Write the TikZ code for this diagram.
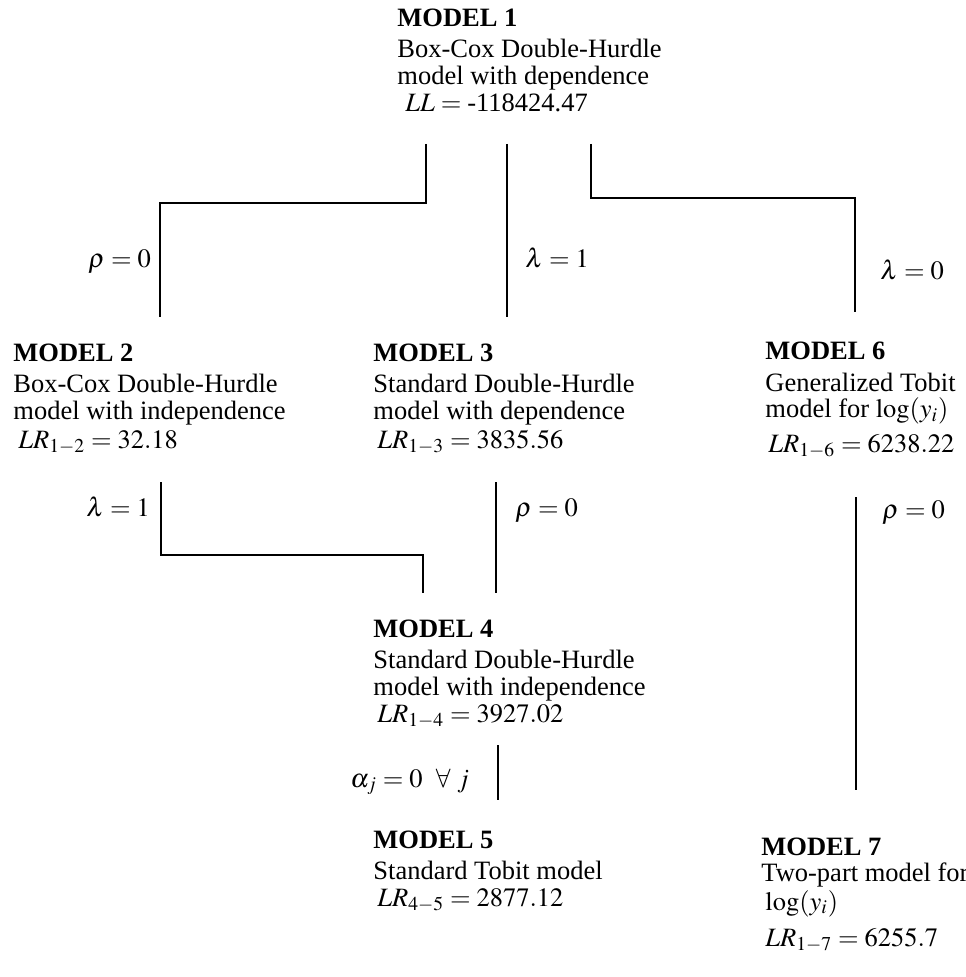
\documentclass[tikz,border=0pt]{standalone}
\usepackage{mathptmx}
\usepackage{fontspec}
\setmainfont{Liberation Serif}
\usepackage{tikz}
\usetikzlibrary{positioning}
\tikzstyle{header}=[anchor=base west,inner sep=0pt,font=\fontsize{13.25}{16}\selectfont\bfseries]
\tikzstyle{bodyline}=[anchor=base west,inner sep=0pt,font=\fontsize{13.25}{16}\selectfont]
\tikzstyle{cond}=[bodyline]
\tikzstyle{link}=[draw,line width=1pt]

\begin{document}
\begin{tikzpicture}[x=0.5pt,y=-0.5pt]
    \useasboundingbox (0,0) rectangle (965,977);
    % Model headers
    \foreach \pos/\name/\num in {{(397,27)/h1/1}, {(13,362)/h2/2}, {(373,362)/h3/3}, {(765,360)/h6/6}, {(373,637)/h4/4}, {(373,848)/h5/5}, {(761,855)/h7/7}}
        \node[header] (\name) at \pos {MODEL \num};

    % Model descriptions, one node per line
    \foreach \pos/\name/\txt in {{(397,58)/m1a/Box-Cox Double-Hurdle}, {(397,85)/m1b/model with dependence}, {(405,112)/m1c/$LL = {}$-118424.47},
        {(13,393)/m2a/Box-Cox Double-Hurdle}, {(13,420)/m2b/model with independence}, {(18,448)/m2c/$LR_{1-2} = 32.18$},
        {(373,393)/m3a/Standard Double-Hurdle}, {(373,420)/m3b/model with dependence}, {(377,448)/m3c/$LR_{1-3} = 3835.56$},
        {(765,392)/m6a/Generalized Tobit}, {(765,418)/m6b/model for $\log(y_i)$}, {(768,452)/m6c/$LR_{1-6} = 6238.22$},
        {(373,668)/m4a/Standard Double-Hurdle}, {(373,695)/m4b/model with independence}, {(377,722)/m4c/$LR_{1-4} = 3927.02$},
        {(373,879)/m5a/Standard Tobit model}, {(377,906)/m5b/$LR_{4-5} = 2877.12$},
        {(761,881)/m7a/Two-part model for}, {(765,910)/m7b/$\log(y_i)$}, {(765,946)/m7c/$LR_{1-7} = 6255.7$}}
        \node[bodyline] (\name) at \pos {\txt};

    % Restrictions
    \foreach \pos/\name/\txt in {{(88,268)/r12/$\rho = 0$}, {(525,268)/r13/$\lambda = 1$}, {(880,280)/r16/$\lambda = 0$},
        {(86,516)/r24/$\lambda = 1$}, {(515,516)/r34/$\rho = 0$}, {(882,518)/r67/$\rho = 0$}, {(350,787)/r45/$\alpha_j = 0\ \ \forall\ j$}}
        \node[cond] (\name) at \pos {\txt};

    % End points of the connectors
    \foreach \pos/\name in {{(426,144)/a12}, {(160,203)/k12}, {(160,317)/b12}, {(507,144)/a13}, {(507,317)/b13},
        {(591,144)/a16}, {(855,198)/k16}, {(855,312)/b16}, {(161,482)/a24}, {(423,555)/k24}, {(423,593)/b24},
        {(496,482)/a34}, {(496,593)/b34}, {(856,497)/a67}, {(856,790)/b67}, {(498,745)/a45}, {(498,800)/b45}}
        \path \pos coordinate (\name);

    % Connect the models
    \path[link] (a12) |- (k12) -- (b12);
    \path[link] (a16) |- (k16) -- (b16);
    \path[link] (a24) |- (k24) -- (b24);
    \foreach \source/\dest in {a13/b13, a34/b34, a67/b67, a45/b45}
        \path[link] (\source) -- (\dest);
\end{tikzpicture}
\end{document}
